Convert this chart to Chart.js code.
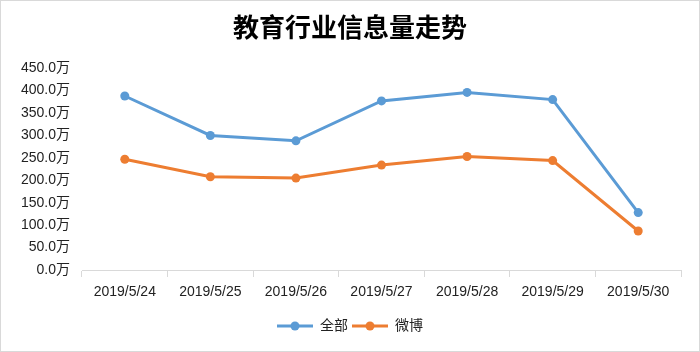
<!DOCTYPE html>
<html>
<head>
<meta charset="utf-8">
<script src="https://cdn.jsdelivr.net/npm/chart.js@4"></script>
<style>
  html, body { margin: 0; padding: 0; background: #fff; }
  #wrap { width: 700px; height: 352px; position: relative; }
</style>
</head>
<body>
<div id="wrap"><canvas id="trendChart" width="700" height="352"></canvas></div>
<script>
// Chart data
const dates = ['2019/5/24', '2019/5/25', '2019/5/26', '2019/5/27', '2019/5/28', '2019/5/29', '2019/5/30'];
const allValues = [388, 300, 288, 377, 396, 380, 128];
const weiboValues = [247, 208, 205, 234, 253, 244, 87];
const seriesNames = ['全部', '微博'];
const chartTitle = '教育行业信息量走势';

const BLUE = '#5B9BD5';
const ORANGE = '#ED7D31';
const FONT = '"Liberation Sans", "Noto Sans CJK SC", sans-serif';

// Legend marker: short line with a dot in the middle
function makeLegendMarker(color) {
    const c = document.createElement('canvas');
    c.width = 36;
    c.height = 10;
    const g = c.getContext('2d');
    g.strokeStyle = color;
    g.lineWidth = 3;
    g.beginPath();
    g.moveTo(0, 5);
    g.lineTo(36, 5);
    g.stroke();
    g.fillStyle = color;
    g.beginPath();
    g.arc(18, 5, 4.5, 0, Math.PI * 2);
    g.fill();
    return c;
}

// Outer grey frame
const framePlugin = {
    id: 'frame',
    afterDraw(chart) {
        const ctx = chart.ctx;
        ctx.save();
        ctx.strokeStyle = '#d9d9d9';
        ctx.lineWidth = 1;
        ctx.strokeRect(0.5, 0.5, chart.width - 1, chart.height - 1);
        ctx.restore();
    }
};

function makeDataset(label, data, color) {
    return {
        label: label,
        data: data,
        borderColor: color,
        backgroundColor: color,
        borderWidth: 3,
        pointRadius: 4.5,
        pointHoverRadius: 4.5,
        pointBorderWidth: 0,
        tension: 0
    };
}

const ctx = document.getElementById('trendChart').getContext('2d');
new Chart(ctx, {
    type: 'line',
    data: {
        labels: dates,
        datasets: [
            makeDataset(seriesNames[0], allValues, BLUE),
            makeDataset(seriesNames[1], weiboValues, ORANGE)
        ]
    },
    options: {
        responsive: false,
        animation: false,
        layout: { padding: { left: 0, right: 0, top: 0, bottom: 9 } },
        plugins: {
            title: {
                display: true,
                text: chartTitle,
                color: '#000',
                font: { family: '"Noto Sans CJK SC", sans-serif', size: 26, weight: 'bold' },
                padding: { top: 12, bottom: 25 }
            },
            legend: {
                position: 'bottom',
                labels: {
                    color: '#222',
                    font: { family: FONT, size: 14 },
                    usePointStyle: true,
                    pointStyleWidth: 36,
                    padding: 4,
                    generateLabels(chart) {
                        const items = Chart.defaults.plugins.legend.labels.generateLabels(chart);
                        items.forEach(item => {
                            const color = chart.data.datasets[item.datasetIndex].borderColor;
                            item.pointStyle = makeLegendMarker(color);
                        });
                        return items;
                    }
                }
            },
            tooltip: { enabled: false }
        },
        scales: {
            x: {
                offset: true,
                grid: {
                    display: true,
                    offset: true,
                    drawOnChartArea: false,
                    drawTicks: true,
                    tickLength: 7,
                    color: '#d9d9d9'
                },
                border: { display: true, color: '#d9d9d9' },
                ticks: {
                    color: '#222',
                    font: { family: FONT, size: 14 },
                    padding: 7,
                    autoSkip: false,
                    maxRotation: 0
                },
                afterFit(scale) { scale.height = 45; }
            },
            y: {
                min: 0,
                max: 450,
                grid: { display: false, drawTicks: false },
                border: { display: false },
                ticks: {
                    stepSize: 50,
                    color: '#222',
                    font: { family: FONT, size: 14 },
                    padding: 12,
                    callback: value => value.toFixed(1) + '万'
                },
                afterFit(scale) { scale.width = 82; }
            },
            // empty right gutter so the title and legend centre on the full width
            gutter: {
                position: 'right',
                display: true,
                grid: { display: false, drawTicks: false },
                border: { display: false },
                ticks: { display: false },
                afterFit(scale) { scale.width = 19; }
            }
        }
    },
    plugins: [framePlugin]
});
</script>
</body>
</html>
